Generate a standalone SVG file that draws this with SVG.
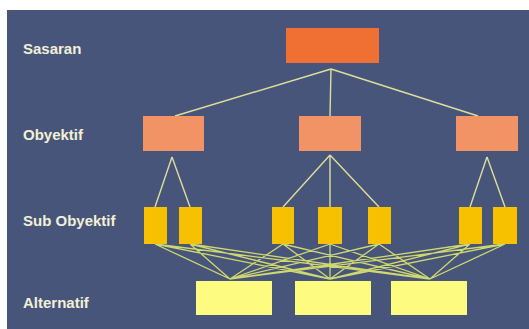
<svg xmlns="http://www.w3.org/2000/svg" width="529" height="329" viewBox="0 0 529 329">
<style>
.lbl{font-family:"Liberation Sans",Arial,sans-serif;font-weight:bold;font-size:15px;fill:#f2f0d6}
.ln{stroke:#dede9a;stroke-width:1.4;fill:none}
.ln2{stroke:#cfd870;stroke-width:1.3;fill:none}
.goal{fill:#f07033}
.obj{fill:#f29365}
.sub{fill:#f7c100}
.alt{fill:#fdfb80}
</style>
<rect x="0" y="0" width="529" height="329" fill="#ffffff"/>
<rect x="7" y="10" width="522" height="319" fill="#48557a"/>
<g id="labels">
<text class="lbl" x="23" y="54">Sasaran</text>
<text class="lbl" x="23" y="140">Obyektif</text>
<text class="lbl" x="23" y="226">Sub Obyektif</text>
<text class="lbl" x="23" y="308">Alternatif</text>
</g>
<g id="connectors">
<path class="ln" d="M331,69 L175,116 M331,69 L330,116 M331,69 L478,116"/>
<path class="ln" d="M172,157 L155,207 M172,157 L190,207"/>
<path class="ln" d="M330,155 L283,207 M330,155 L330,207 M330,155 L379,207"/>
<path class="ln" d="M487,157 L470,207 M487,157 L505,207"/>
<path class="ln2" d="M155,244 L230,279 M155,244 L330,279 M155,244 L430,279
M190,244 L230,279 M190,244 L330,279 M190,244 L430,279
M283,244 L230,279 M283,244 L330,279 M283,244 L430,279
M330,244 L230,279 M330,244 L330,279 M330,244 L430,279
M379,244 L230,279 M379,244 L330,279 M379,244 L430,279
M470,244 L230,279 M470,244 L330,279 M470,244 L430,279
M505,244 L230,279 M505,244 L330,279 M505,244 L430,279"/>
</g>
<g id="sasaran"><rect class="goal" x="286" y="28" width="93" height="35"/></g>
<g id="obyektif1"><rect class="obj" x="143" y="116" width="61" height="35"/></g>
<g id="obyektif2"><rect class="obj" x="299" y="116" width="62" height="35"/></g>
<g id="obyektif3"><rect class="obj" x="456" y="116" width="62" height="35"/></g>
<g id="sub1"><rect class="sub" x="144" y="207" width="23" height="37"/></g>
<g id="sub2"><rect class="sub" x="179" y="207" width="23" height="37"/></g>
<g id="sub3"><rect class="sub" x="272" y="207" width="22" height="37"/></g>
<g id="sub4"><rect class="sub" x="318" y="207" width="24" height="37"/></g>
<g id="sub5"><rect class="sub" x="368" y="207" width="23" height="37"/></g>
<g id="sub6"><rect class="sub" x="459" y="207" width="23" height="37"/></g>
<g id="sub7"><rect class="sub" x="493" y="207" width="24" height="37"/></g>
<g id="alt1"><rect class="alt" x="196" y="281" width="76" height="34"/></g>
<g id="alt2"><rect class="alt" x="295" y="281" width="76" height="34"/></g>
<g id="alt3"><rect class="alt" x="391" y="281" width="76" height="34"/></g>
</svg>
